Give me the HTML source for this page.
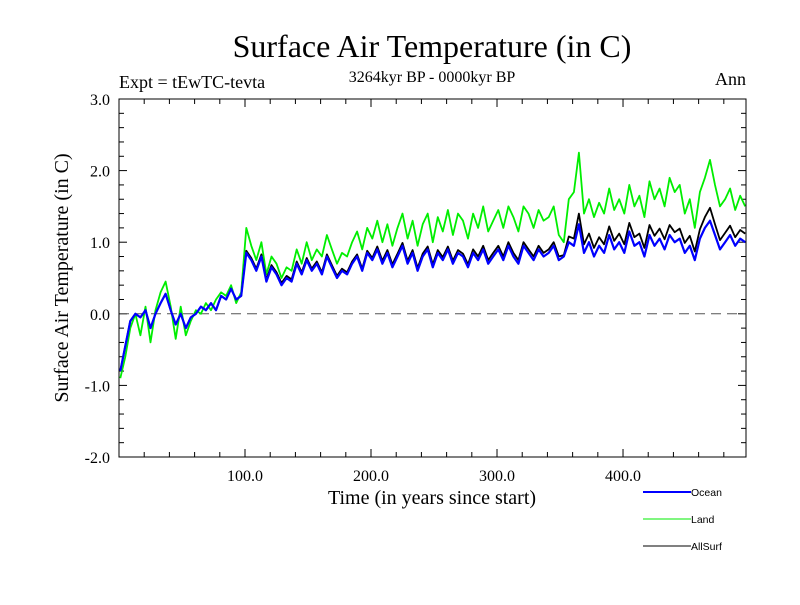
<!DOCTYPE html>
<html><head><meta charset="utf-8"><style>
body{margin:0;background:#fff}
svg text{font-family:"Liberation Serif",serif}
</style></head><body>
<svg id="chart" width="800" height="600" xmlns="http://www.w3.org/2000/svg">
<text x="432" y="57" font-size="32" text-anchor="middle">Surface Air Temperature (in C)</text>
<text x="119" y="88" font-size="18">Expt = tEwTC-tevta</text>
<text x="432" y="82" font-size="16" text-anchor="middle">3264kyr BP - 0000kyr BP</text>
<text x="746" y="85" font-size="18" text-anchor="end">Ann</text>
<text transform="translate(68,278) rotate(-90)" font-size="20" text-anchor="middle">Surface Air Temperature (in C)</text>
<text x="432" y="504" font-size="20" text-anchor="middle">Time (in years since start)</text>
<g id="ticks"></g>
<g id="series"></g>
<rect x="119" y="99" width="627" height="358" fill="none" stroke="#000" stroke-width="1"/>
<g>
<line x1="643" y1="492" x2="691" y2="492" stroke="#0000ff" stroke-width="2"/>
<text x="691" y="496" font-size="10.5" style="font-family:'Liberation Sans',sans-serif">Ocean</text>
<line x1="643" y1="519" x2="691" y2="519" stroke="#00ee00" stroke-width="1"/>
<text x="691" y="523" font-size="10.5" style="font-family:'Liberation Sans',sans-serif">Land</text>
<line x1="643" y1="546" x2="691" y2="546" stroke="#000" stroke-width="1"/>
<text x="691" y="550" font-size="10.5" style="font-family:'Liberation Sans',sans-serif">AllSurf</text>
</g>
</svg>
<script>
const step = 4;
const ocean = [-0.8,-0.45,-0.1,0.0,-0.05,0.05,-0.2,0.0,0.15,0.28,0.05,-0.15,0.0,-0.2,-0.05,0.0,0.1,0.05,0.15,0.05,0.25,0.2,0.35,0.2,0.25,0.85,0.75,0.6,0.8,0.45,0.65,0.55,0.4,0.5,0.45,0.7,0.55,0.75,0.6,0.7,0.55,0.8,0.65,0.5,0.6,0.55,0.7,0.8,0.6,0.85,0.75,0.9,0.7,0.85,0.65,0.8,0.95,0.7,0.85,0.6,0.8,0.9,0.65,0.85,0.75,0.9,0.7,0.85,0.8,0.65,0.85,0.75,0.9,0.7,0.8,0.9,0.75,0.95,0.8,0.7,0.95,0.85,0.75,0.9,0.8,0.85,0.95,0.75,0.8,1.0,0.95,1.25,0.85,1.0,0.8,0.95,0.85,1.1,0.9,1.0,0.85,1.15,0.95,1.0,0.8,1.1,0.95,1.05,0.9,1.1,1.0,1.05,0.85,0.95,0.75,1.05,1.2,1.3,1.1,0.9,1.0,1.1,0.95,1.05,1.0];
const land = [-0.9,-0.6,-0.2,0.0,-0.3,0.1,-0.4,0.05,0.3,0.45,0.1,-0.35,0.1,-0.3,-0.1,0.05,0.0,0.15,0.05,0.2,0.3,0.25,0.4,0.15,0.3,1.2,0.95,0.75,1.0,0.55,0.8,0.7,0.5,0.65,0.6,0.9,0.7,1.0,0.75,0.9,0.8,1.1,0.9,0.7,0.85,0.8,1.0,1.15,0.9,1.2,1.05,1.3,1.0,1.25,0.95,1.2,1.4,1.05,1.3,0.95,1.25,1.4,1.0,1.35,1.15,1.45,1.1,1.4,1.3,1.05,1.4,1.2,1.5,1.15,1.3,1.45,1.2,1.5,1.35,1.15,1.5,1.4,1.2,1.45,1.3,1.35,1.5,1.1,1.0,1.6,1.7,2.25,1.4,1.6,1.35,1.55,1.4,1.75,1.45,1.6,1.4,1.8,1.5,1.65,1.35,1.85,1.6,1.75,1.5,1.9,1.7,1.8,1.4,1.6,1.2,1.7,1.9,2.15,1.8,1.5,1.6,1.75,1.45,1.65,1.5];
const allsurf = [-0.8,-0.45,-0.1,0.0,-0.05,0.05,-0.2,0.0,0.15,0.28,0.05,-0.15,0.0,-0.2,-0.05,0.0,0.1,0.05,0.15,0.05,0.25,0.2,0.35,0.2,0.25,0.88,0.78,0.63,0.83,0.48,0.68,0.58,0.43,0.53,0.48,0.73,0.58,0.78,0.63,0.73,0.58,0.83,0.68,0.53,0.63,0.58,0.73,0.83,0.63,0.88,0.78,0.94,0.74,0.89,0.69,0.84,0.99,0.74,0.89,0.64,0.84,0.94,0.69,0.89,0.79,0.94,0.74,0.89,0.84,0.69,0.9,0.8,0.95,0.75,0.85,0.95,0.8,1.0,0.85,0.75,1.0,0.9,0.8,0.95,0.85,0.9,1.0,0.8,0.82,1.08,1.05,1.4,0.97,1.12,0.92,1.07,0.97,1.22,1.02,1.12,0.97,1.27,1.07,1.12,0.92,1.24,1.09,1.19,1.04,1.24,1.14,1.19,0.99,1.09,0.87,1.18,1.35,1.48,1.25,1.03,1.13,1.23,1.07,1.17,1.12];
const yTicks = [-2.0,-1.0,0.0,1.0,2.0,3.0];
const yTickLabels = ["-2.0","-1.0","0.0","1.0","2.0","3.0"];
const xTicks = [100,200,300,400];
const xTickLabels = ["100.0","200.0","300.0","400.0"];

const NS = "http://www.w3.org/2000/svg";
const X0 = 119, X1 = 746, Y0 = 457, Y1 = 99, XMAX = 497.6, YMIN = -2, YMAX = 3;
function xs(t){ return X0 + t/XMAX*(X1-X0); }
function ys(v){ return Y0 - (v-YMIN)/(YMAX-YMIN)*(Y0-Y1); }
function mk(tag, attrs, parent){ const e=document.createElementNS(NS,tag); for(const k in attrs) e.setAttribute(k,attrs[k]); parent.appendChild(e); return e; }

const tg = document.getElementById('ticks');
for (let v=-2; v<=3.001; v+=0.2){
  const major = Math.abs(v-Math.round(v))<1e-6, L = major?8:5, y=ys(v);
  const a = mk('line',{x1:X0,y1:y,x2:X0+L,y2:y,stroke:'#000'},tg);
  
  
  const b = mk('line',{x1:X1,y1:y,x2:X1-L,y2:y,stroke:'#000'},tg);
  
  
}
for (let t=20; t<XMAX; t+=20){
  const major = t%100===0, L = major?8:5, x=xs(t);
  const a = mk('line',{x1:x,y1:Y0,x2:x,y2:Y0-L,stroke:'#000'},tg);
  
  
  const b = mk('line',{x1:x,y1:Y1,x2:x,y2:Y1+L,stroke:'#000'},tg);
  
  
}
yTicks.forEach((v,i)=>{
  const t = mk('text',{x:110,y:ys(v)+6,'font-size':16,'text-anchor':'end'},tg);
  t.textContent = yTickLabels[i];
  
  
});
xTicks.forEach((v,i)=>{
  const t = mk('text',{x:xs(v),y:481,'font-size':16,'text-anchor':'middle'},tg);
  t.textContent = xTickLabels[i];
  
  
});
const zl = mk('line',{x1:X0,y1:ys(0),x2:X1,y2:ys(0),stroke:'#555','stroke-dasharray':'10,6'},tg);



const sg = document.getElementById('series');
function draw(arr, color, w, name){
  const d = arr.map((v,i)=>(i?'L':'M')+xs(Math.min(i*step+1,XMAX)).toFixed(1)+','+ys(v).toFixed(1)).join('');
  const p = mk('path',{d:d,fill:'none',stroke:color,'stroke-width':w,'stroke-linejoin':'round'},sg);
  
  
}
draw(land,'#00ee00',1.8,'land-series');
draw(allsurf,'#000000',1.8,'allsurf-series');
draw(ocean,'#0000ff',2.2,'ocean-series');
</script>
</body></html>
